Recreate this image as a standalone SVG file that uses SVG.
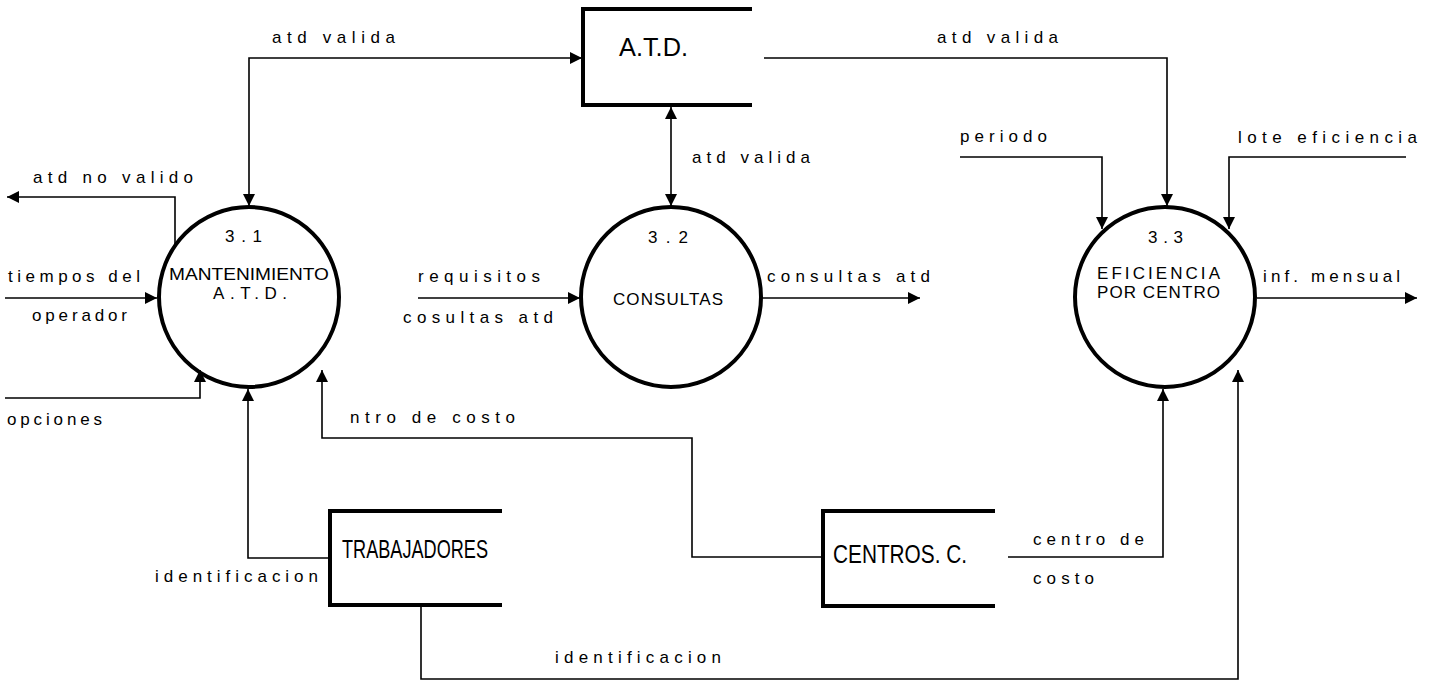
<svg xmlns="http://www.w3.org/2000/svg" width="1435" height="682" viewBox="0 0 1435 682">
<style>
.bg{fill:#fff}
.proc{fill:none;stroke:#000;stroke-width:4}
.store{fill:none;stroke:#000;stroke-width:4}
.flow{fill:none;stroke:#000;stroke-width:1.6}
.lbl{font-family:"Liberation Sans",Arial,sans-serif;font-size:17px;fill:#000}
.ptxt{font-family:"Liberation Sans",Arial,sans-serif;font-size:17px;fill:#000}
.stxt{font-family:"Liberation Sans",Arial,sans-serif;font-size:25px;fill:#000}
</style>
<defs>
<marker id="arr" viewBox="0 0 10 10" refX="10" refY="5" markerWidth="16" markerHeight="12" markerUnits="userSpaceOnUse" orient="auto-start-reverse">
<path d="M0,0 L10,5 L0,10 z" fill="#000"/>
</marker>
</defs>
<rect class="bg" x="0" y="0" width="1435" height="682"/>

<g id="connectors">
<path class="flow" d="M249,206 V58 H582" marker-start="url(#arr)" marker-end="url(#arr)"/>
<path class="flow" d="M764,58 H1167 V206" marker-end="url(#arr)"/>
<path class="flow" d="M671,107 V206" marker-start="url(#arr)" marker-end="url(#arr)"/>
<path class="flow" d="M175,244 V197 H7" marker-end="url(#arr)"/>
<path class="flow" d="M5,298 H157" marker-end="url(#arr)"/>
<path class="flow" d="M5,398 H200 V370" marker-end="url(#arr)"/>
<path class="flow" d="M330,558 H248 V389" marker-end="url(#arr)"/>
<path class="flow" d="M823,557 H692 V438 H322 V370" marker-end="url(#arr)"/>
<path class="flow" d="M421,607 V679 H1238 V370" marker-end="url(#arr)"/>
<path class="flow" d="M1008,557 H1163 V389" marker-end="url(#arr)"/>
<path class="flow" d="M960,157 H1102 V229" marker-end="url(#arr)"/>
<path class="flow" d="M1406,157 H1229 V229" marker-end="url(#arr)"/>
<path class="flow" d="M1257,298 H1417" marker-end="url(#arr)"/>
<path class="flow" d="M418,298 H580" marker-end="url(#arr)"/>
<path class="flow" d="M762,298 H920" marker-end="url(#arr)"/>

<text class="lbl" x="272" y="43" textLength="123" lengthAdjust="spacing">atd valida</text>
<text class="lbl" x="937" y="43" textLength="121" lengthAdjust="spacing">atd valida</text>
<text class="lbl" x="692" y="163" textLength="118" lengthAdjust="spacing">atd valida</text>
<text class="lbl" x="33" y="183" textLength="160" lengthAdjust="spacing">atd no valido</text>
<text class="lbl" x="8" y="282" textLength="132" lengthAdjust="spacing">tiempos del</text>
<text class="lbl" x="32" y="321" textLength="95" lengthAdjust="spacing">operador</text>
<text class="lbl" x="7" y="425" textLength="95" lengthAdjust="spacing">opciones</text>
<text class="lbl" x="418" y="282" textLength="122" lengthAdjust="spacing">requisitos</text>
<text class="lbl" x="403" y="323" textLength="150" lengthAdjust="spacing">cosultas atd</text>
<text class="lbl" x="767" y="282" textLength="163" lengthAdjust="spacing">consultas atd</text>
<text class="lbl" x="350" y="423" textLength="165" lengthAdjust="spacing">ntro de costo</text>
<text class="lbl" x="960" y="142" textLength="87" lengthAdjust="spacing">periodo</text>
<text class="lbl" x="1238" y="143" textLength="179" lengthAdjust="spacing">lote eficiencia</text>
<text class="lbl" x="1263" y="282" textLength="137" lengthAdjust="spacing">inf. mensual</text>
<text class="lbl" x="1033" y="545" textLength="111" lengthAdjust="spacing">centro de</text>
<text class="lbl" x="1033" y="584" textLength="61" lengthAdjust="spacing">costo</text>
<text class="lbl" x="155" y="582" textLength="163" lengthAdjust="spacing">identificacion</text>
<text class="lbl" x="555" y="663" textLength="166" lengthAdjust="spacing">identificacion</text>
</g>

<g id="p31">
<circle class="proc" cx="249" cy="297" r="90"/>
<text class="ptxt" x="225" y="242" textLength="37" lengthAdjust="spacing">3.1</text>
<text class="ptxt" x="169" y="280" textLength="160" lengthAdjust="spacingAndGlyphs">MANTENIMIENTO</text>
<text class="ptxt" x="213" y="299" textLength="74" lengthAdjust="spacing">A.T.D.</text>
</g>

<g id="p32">
<circle class="proc" cx="671" cy="297" r="90"/>
<text class="ptxt" x="648" y="243" textLength="40" lengthAdjust="spacing">3.2</text>
<text class="ptxt" x="613" y="305" textLength="110" lengthAdjust="spacing">CONSULTAS</text>
</g>

<g id="p33">
<circle class="proc" cx="1165" cy="297" r="90"/>
<text class="ptxt" x="1148" y="243" textLength="35" lengthAdjust="spacing">3.3</text>
<text class="ptxt" x="1097" y="279" textLength="123" lengthAdjust="spacing">EFICIENCIA</text>
<text class="ptxt" x="1097" y="298" textLength="123" lengthAdjust="spacing">POR CENTRO</text>
</g>

<g id="s_atd">
<path class="store" d="M752,9 H583 V105 H752"/>
<text class="stxt" x="619" y="56" textLength="69" lengthAdjust="spacingAndGlyphs">A.T.D.</text>
</g>

<g id="s_trab">
<path class="store" d="M502,511 H330 V605 H502"/>
<text class="stxt" x="342" y="558" textLength="146" lengthAdjust="spacingAndGlyphs">TRABAJADORES</text>
</g>

<g id="s_cent">
<path class="store" d="M995,511 H823 V606 H995"/>
<text class="stxt" x="833" y="563" textLength="134" lengthAdjust="spacingAndGlyphs">CENTROS. C.</text>
</g>
</svg>
